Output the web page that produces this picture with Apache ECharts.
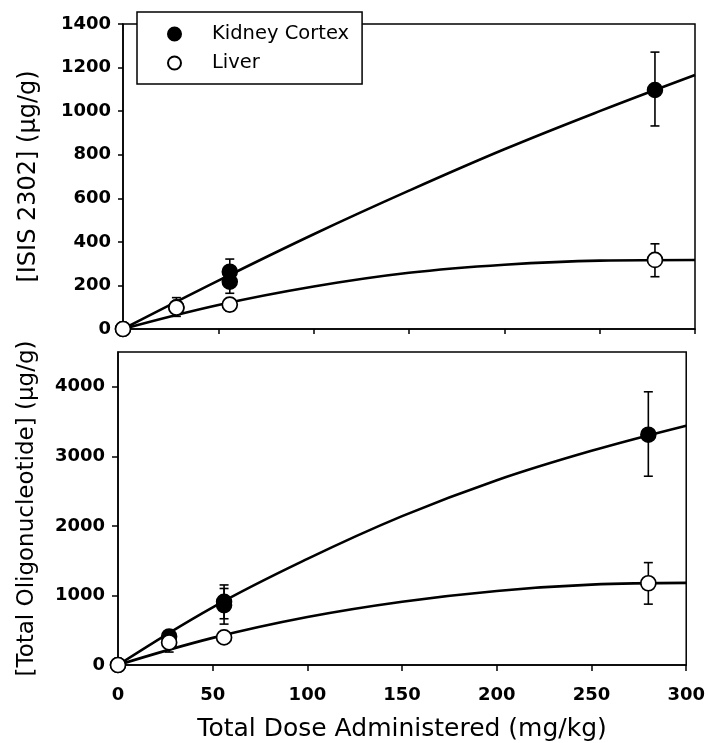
<!DOCTYPE html>
<html>
<head>
<meta charset="utf-8">
<script src="https://cdn.jsdelivr.net/npm/echarts@6/dist/echarts.min.js"></script>
<style>
html,body{margin:0;padding:0;background:#fff;}
#chart{width:708px;height:743px;}
</style>
</head>
<body>
<div id="chart"></div>
<script>
// ---------- data ----------
const seriesNames = ['Kidney Cortex', 'Liver'];
const xTicks = [0, 50, 100, 150, 200, 250, 300];

// Top panel: [ISIS 2302]
const topKidneyX  = [0, 28, 56, 56, 279];
const topKidneyY  = [0, 100, 263, 217, 1097];
const topKidneyLo = [null, null, 205, 164, 932];
const topKidneyHi = [null, null, 321, 262, 1271];

const topLiverX  = [0, 28, 56, 279];
const topLiverY  = [0, 98, 112, 317];
const topLiverLo = [null, 58, 82, 240];
const topLiverHi = [null, 144, 140, 391];

const curveX         = [0, 50, 100, 150, 200, 250, 300];
const topKidneyCurve = [0, 222, 435, 635, 825, 1000, 1166];
const topLiverCurve  = [0, 110, 195, 258, 295, 314, 317];

// Bottom panel: [Total Oligonucleotide]
const botKidneyX  = [0, 27, 56, 56, 280];
const botKidneyY  = [0, 411, 908, 860, 3312];
const botKidneyLo = [null, null, 665, 588, 2714];
const botKidneyHi = [null, null, 1151, 1100, 3928];

const botLiverX  = [0, 27, 56, 280];
const botLiverY  = [0, 325, 397, 1175];
const botLiverLo = [null, 186, 330, 875];
const botLiverHi = [null, 420, 460, 1472];

const botKidneyCurve = [0, 830, 1525, 2140, 2657, 3080, 3441];
const botLiverCurve  = [0, 390, 690, 910, 1065, 1155, 1180];

// ---------- helpers ----------
const zip = (xs, ys) => xs.map((x, i) => [x, ys[i]]);
const errData = (xs, lo, hi) => xs.map((x, i) => [x, lo[i], hi[i]]).filter(d => d[1] !== null);

const FONT = 'DejaVu Sans';
const black = '#000';

function errSeries(data, xi, yi) {
  return {
    type: 'custom', xAxisIndex: xi, yAxisIndex: yi, z: 3, silent: true,
    data: data,
    encode: { x: 0, y: [1, 2] },
    renderItem: function (params, api) {
      const x = api.value(0);
      const pLo = api.coord([x, api.value(1)]);
      const pHi = api.coord([x, api.value(2)]);
      const w = 4.5;
      const st = { stroke: black, lineWidth: 1.6 };
      return {
        type: 'group',
        children: [
          { type: 'line', shape: { x1: pLo[0], y1: pLo[1], x2: pHi[0], y2: pHi[1] }, style: st },
          { type: 'line', shape: { x1: pLo[0] - w, y1: pLo[1], x2: pLo[0] + w, y2: pLo[1] }, style: st },
          { type: 'line', shape: { x1: pHi[0] - w, y1: pHi[1], x2: pHi[0] + w, y2: pHi[1] }, style: st }
        ]
      };
    }
  };
}

function curveSeries(xs, ys, xi, yi) {
  return {
    type: 'line', xAxisIndex: xi, yAxisIndex: yi, z: 2, silent: true,
    data: zip(xs, ys), smooth: 0.4, symbol: 'none',
    lineStyle: { color: black, width: 2.6 }
  };
}

const kidneyStyle = { color: black, borderColor: black, borderWidth: 1.5, opacity: 1 };
const liverStyle  = { color: '#fff', borderColor: black, borderWidth: 1.7, opacity: 1 };

function pointSeries(name, xs, ys, xi, yi, style) {
  return {
    name: name, type: 'scatter', xAxisIndex: xi, yAxisIndex: yi, z: 5,
    data: zip(xs, ys), symbol: 'circle', symbolSize: 15,
    itemStyle: style, emphasis: { disabled: true }, silent: true
  };
}

const tickLabel = { color: black, fontFamily: FONT, fontSize: 18, fontWeight: 'bold', formatter: v => String(v) };
const axisLine = { lineStyle: { color: black, width: 1.5 } };

const option = {
  backgroundColor: '#fff',
  animation: false,
  legend: {
    left: 137, top: 12,
    orient: 'vertical',
    data: seriesNames,
    icon: 'circle',
    itemWidth: 13, itemHeight: 13,
    itemGap: 9,
    padding: [12, 13, 11, 30],
    backgroundColor: '#fff',
    borderColor: black, borderWidth: 1.5,
    borderRadius: 0,
    z: 10,
    selectedMode: false,
    textStyle: { color: black, fontFamily: FONT, fontSize: 19.5, padding: [0, 0, 0, 26] }
  },
  grid: [
    { left: 123, right: 13, top: 24, height: 305, show: true, borderColor: black, borderWidth: 1.5, backgroundColor: 'transparent' },
    { left: 118, right: 20, top: 352, height: 314, show: true, borderColor: black, borderWidth: 1.5, backgroundColor: 'transparent' }
  ],
  xAxis: [
    { gridIndex: 0, type: 'value', min: 0, max: 300, interval: 50,
      axisLine: axisLine, axisTick: { show: true, length: 5, lineStyle: { color: black, width: 1.5 } },
      axisLabel: { show: false }, splitLine: { show: false } },
    { gridIndex: 1, type: 'value', min: 0, max: 300, interval: 50,
      axisLine: axisLine, axisTick: { show: true, length: 6, lineStyle: { color: black, width: 1.5 } },
      axisLabel: Object.assign({}, tickLabel, { margin: 21, formatter: v => xTicks.includes(v) ? String(v) : '' }),
      splitLine: { show: false },
      name: 'Total Dose Administered (mg/kg)', nameLocation: 'middle', nameGap: 52,
      nameTextStyle: { color: black, fontFamily: FONT, fontSize: 25 } }
  ],
  yAxis: [
    { gridIndex: 0, type: 'value', min: 0, max: 1400, interval: 200,
      axisLine: axisLine, axisTick: { show: true, length: 5, lineStyle: { color: black, width: 1.5 } },
      axisLabel: Object.assign({ margin: 12 }, tickLabel), splitLine: { show: false },
      name: '[ISIS 2302] (µg/g)', nameLocation: 'middle', nameGap: 82,
      nameTextStyle: { color: black, fontFamily: FONT, fontSize: 24 } },
    { gridIndex: 1, type: 'value', min: 0, max: 4500, interval: 1000,
      axisLine: axisLine, axisTick: { show: true, length: 6, lineStyle: { color: black, width: 1.5 } },
      axisLabel: Object.assign({ margin: 13, showMaxLabel: false }, tickLabel), splitLine: { show: false },
      name: '[Total Oligonucleotide] (µg/g)', nameLocation: 'middle', nameGap: 79,
      nameTextStyle: { color: black, fontFamily: FONT, fontSize: 23 } }
  ],
  series: [
    curveSeries(curveX, topKidneyCurve, 0, 0),
    curveSeries(curveX, topLiverCurve, 0, 0),
    curveSeries(curveX, botKidneyCurve, 1, 1),
    curveSeries(curveX, botLiverCurve, 1, 1),
    errSeries(errData(topKidneyX, topKidneyLo, topKidneyHi), 0, 0),
    errSeries(errData(topLiverX, topLiverLo, topLiverHi), 0, 0),
    errSeries(errData(botKidneyX, botKidneyLo, botKidneyHi), 1, 1),
    errSeries(errData(botLiverX, botLiverLo, botLiverHi), 1, 1),
    pointSeries('Kidney Cortex', topKidneyX, topKidneyY, 0, 0, kidneyStyle),
    pointSeries('Liver', topLiverX, topLiverY, 0, 0, liverStyle),
    pointSeries('Kidney Cortex', botKidneyX, botKidneyY, 1, 1, kidneyStyle),
    pointSeries('Liver', botLiverX, botLiverY, 1, 1, liverStyle)
  ]
};

const chart = echarts.init(document.getElementById('chart'), null, { renderer: 'canvas' });
chart.setOption(option);
</script>
</body>
</html>
